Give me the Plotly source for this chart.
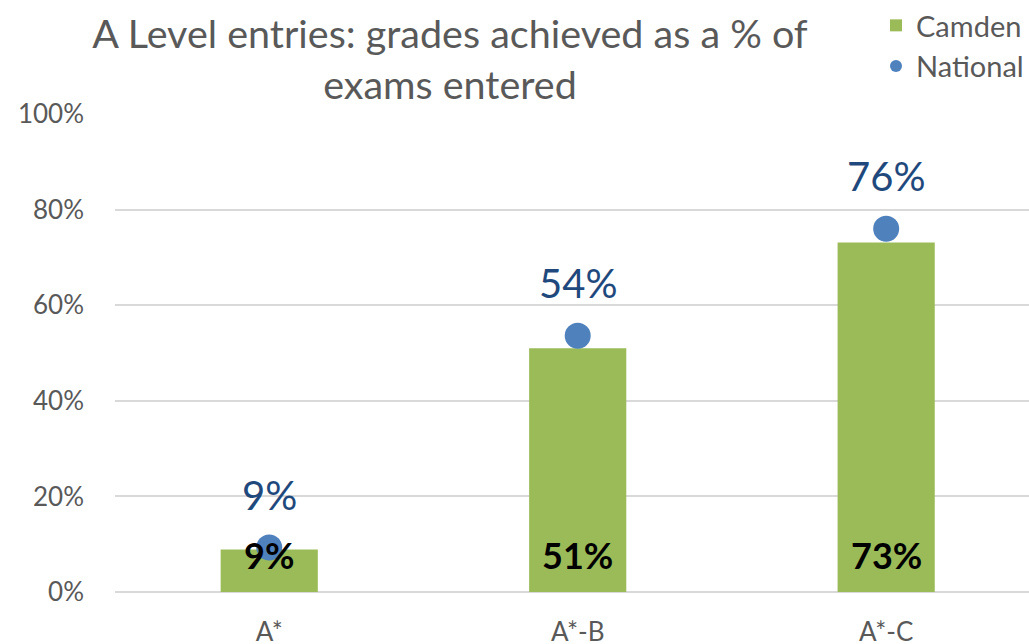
import plotly.graph_objects as go

categories = ["A*", "A*-B", "A*-C"]
camden = [8.9, 51.0, 73.1]
national = [9.3, 53.6, 76.0]
camden_labels = ["9%", "51%", "73%"]
national_labels = ["9%", "54%", "76%"]
y_ticks = [0, 20, 40, 60, 80, 100]
y_tick_labels = ["0%", "20%", "40%", "60%", "80%", "100%"]

GREEN = "#9BBB59"
BLUE = "#4F81BD"
DARKBLUE = "#1F497D"
GREY = "#595959"
FONT = "Lato"

fig = go.Figure()
fig.add_trace(go.Bar(
    x=categories, y=camden, name="Camden",
    marker=dict(color=GREEN, line=dict(width=0)),
    width=0.315,
))
fig.add_trace(go.Scatter(
    x=categories, y=national, name="National", mode="markers",
    marker=dict(color=BLUE, size=26, line=dict(width=0)),
))

annotations = []
for c, v, t in zip(categories, national, national_labels):
    annotations.append(dict(x=c, y=v, xref="x", yref="y", text=t, showarrow=False,
                            yanchor="middle", yshift=53,
                            font=dict(family=FONT, size=40, color=DARKBLUE)))
for c, t in zip(categories, camden_labels):
    annotations.append(dict(x=c, y=0, xref="x", yref="y", text="<b>" + t + "</b>", showarrow=False,
                            yanchor="middle", yshift=37,
                            font=dict(family=FONT, size=36, color="black")))

fig.update_layout(
    template="none",
    width=1029, height=644,
    margin=dict(l=115, r=0, t=114, b=52, pad=0, autoexpand=False),
    paper_bgcolor="white", plot_bgcolor="white",
    font=dict(family=FONT, color=GREY),
    title=dict(text="A Level entries: grades achieved as a % of<br>exams entered",
               x=(450 - 115) / 914, xref="paper", xanchor="center",
               y=1 - 48 / 644, yanchor="top", yref="container",
               font=dict(family=FONT, size=39.5, color=GREY)),
    showlegend=True,
    legend=dict(x=1.0, xanchor="right", y=1.0, yanchor="top", xref="container", yref="container",
                font=dict(family=FONT, size=29, color=GREY),
                itemsizing="constant", bgcolor="rgba(0,0,0,0)", tracegroupgap=0),
    annotations=annotations,
    xaxis=dict(type="category", range=[-0.5, 2.463], showgrid=False, showline=False,
               zeroline=False, ticks="", ticklabelstandoff=22, automargin=False,
               tickfont=dict(family=FONT, size=26, color=GREY)),
    yaxis=dict(range=[0, 100], tickvals=y_ticks, ticktext=y_tick_labels,
               showgrid=True, gridcolor="#D9D9D9", gridwidth=2,
               zeroline=True, zerolinecolor="#D9D9D9", zerolinewidth=2,
               showline=False, ticks="", ticklabelstandoff=30, automargin=False,
               tickfont=dict(family=FONT, size=26, color=GREY)),
)

fig.write_html("out.html", config={"displayModeBar": False},
               post_script="document.body.style.margin='0';document.body.style.overflow='hidden';")
